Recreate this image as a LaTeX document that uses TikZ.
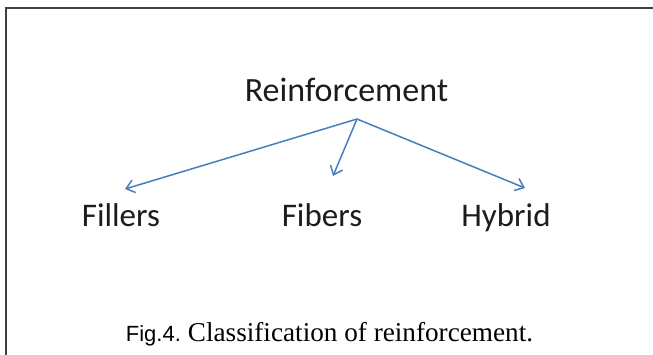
\documentclass[tikz,border=0pt]{standalone}
\usepackage{fontspec}
\setmainfont{Carlito}
\newfontfamily\capsans{Liberation Sans}
\newfontfamily\capserif{Liberation Serif}
\usepackage{tikz}
\usetikzlibrary{arrows.meta}
\definecolor{linkblue}{HTML}{4A7EBB}
\definecolor{inkdark}{HTML}{1C1C1C}
\tikzset{
  class/.style = {inner sep=0pt, anchor=base, text=inkdark, font=\fontsize{33}{36}\selectfont},
  line/.style  = {draw=linkblue, line width=1.5pt, -{Straight Barb[length=8pt,width=13pt]}}
}

\begin{document}
\begin{tikzpicture}[x=1pt, y=-1pt]
  \useasboundingbox (0,0) rectangle (653,354);
  % frame round the figure
  \begin{scope}
    \clip (0,0) rectangle (653,354);
    \draw [line width=2pt, draw=black!75] (6,360) -- (6,8) -- (660,8);
  \end{scope}

  \node [class, font=\fontsize{34}{37}\selectfont] (reinf) at (346.5,101) {Reinforcement};
  \node [class] (fillers) at (121,226) {Fillers};
  \node [class] (fibers) at (322,226) {Fibers};
  \node [class] (hybrid) at (506,226) {Hybrid};

  \coordinate (split) at (357,119);
  \coordinate (toFillers) at (125,189);
  \coordinate (toFibers) at (333,176);
  \coordinate (toHybrid) at (525,188);

  \path [line] (split) -- (toFillers);
  \path [line] (split) -- (toFibers);
  \path [line] (split) -- (toHybrid);

  \node [inner sep=0pt, anchor=base, text=black] (caption) at (329.5,341)
    {{\capsans\fontsize{22}{25}\selectfont Fig.4.}\hspace{7pt}{\capserif\fontsize{27.2}{30}\selectfont Classification of reinforcement.}};
\end{tikzpicture}
\end{document}
